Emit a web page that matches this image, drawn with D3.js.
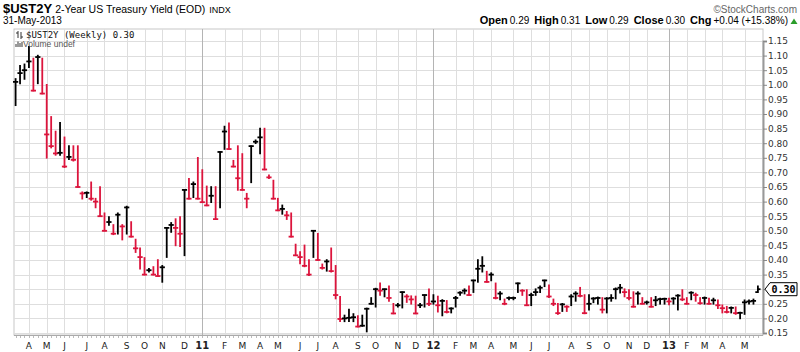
<!DOCTYPE html>
<html><head><meta charset="utf-8">
<script src="https://cdn.jsdelivr.net/npm/d3@7"></script>
<style>body{margin:0;background:#fff} svg{display:block}</style>
</head><body>
<svg id="c" width="800" height="352"></svg>
<script>
// ---- data ----
const firstWeek = "2010-03-15";   // Monday of first weekly bar
const lastWeek  = "2013-05-27";   // Monday of last weekly bar

const opens = [1.01,1.04,1.05,1.08,0.98,1.095,0.97,0.83,0.79,0.765,0.767,0.72,0.753,0.743,0.65,0.628,0.63,0.61,0.60,0.55,
0.50,0.53,0.49,0.555,0.515,0.58,0.48,0.44,0.41,0.35,0.365,0.35,0.345,0.375,0.51,0.52,0.51,0.49,0.64,0.61,
0.66,0.61,0.598,0.587,0.62,0.54,0.77,0.84,0.78,0.72,0.68,0.64,0.61,0.79,0.805,0.82,0.71,0.683,0.61,0.57,
0.575,0.553,0.48,0.416,0.41,0.38,0.35,0.50,0.40,0.373,0.395,0.362,0.28,0.198,0.20,0.202,0.204,0.172,0.175,0.233,
0.25,0.30,0.295,0.30,0.27,0.217,0.245,0.29,0.275,0.265,0.217,0.245,0.28,0.25,0.258,0.245,0.26,0.222,0.234,0.27,
0.288,0.295,0.28,0.33,0.37,0.38,0.325,0.35,0.27,0.285,0.25,0.27,0.27,0.32,0.295,0.245,0.28,0.29,0.305,0.33,
0.275,0.25,0.218,0.248,0.24,0.275,0.285,0.277,0.218,0.25,0.268,0.27,0.23,0.268,0.27,0.30,0.305,0.29,0.27,0.24,
0.285,0.25,0.255,0.24,0.262,0.266,0.267,0.258,0.268,0.278,0.265,0.25,0.288,0.28,0.252,0.27,0.25,0.262,0.245,0.235,
0.222,0.236,0.218,0.219,0.255,0.258,0.26,0.29];
const highs = [1.02,1.065,1.07,1.13,1.09,1.10,1.09,1.00,0.89,0.84,0.87,0.82,0.79,0.79,0.79,0.632,0.632,0.666,0.61,0.65,
0.56,0.547,0.52,0.56,0.52,0.583,0.53,0.47,0.44,0.407,0.37,0.376,0.40,0.38,0.51,0.527,0.54,0.547,0.64,0.678,
0.666,0.75,0.708,0.652,0.65,0.65,0.77,0.857,0.868,0.74,0.79,0.763,0.627,0.79,0.81,0.85,0.85,0.69,0.672,0.61,
0.587,0.565,0.56,0.453,0.427,0.45,0.40,0.50,0.49,0.385,0.40,0.44,0.38,0.274,0.21,0.23,0.215,0.208,0.21,0.234,
0.27,0.302,0.32,0.30,0.31,0.25,0.25,0.29,0.28,0.276,0.275,0.25,0.28,0.30,0.28,0.275,0.263,0.26,0.235,0.274,
0.29,0.30,0.31,0.33,0.40,0.41,0.36,0.355,0.32,0.29,0.265,0.272,0.272,0.32,0.297,0.297,0.285,0.30,0.31,0.33,
0.313,0.265,0.25,0.25,0.242,0.28,0.29,0.305,0.28,0.28,0.27,0.272,0.27,0.27,0.28,0.303,0.315,0.30,0.297,0.29,
0.29,0.27,0.258,0.27,0.274,0.268,0.268,0.268,0.27,0.28,0.297,0.27,0.29,0.285,0.27,0.272,0.268,0.268,0.262,0.245,
0.24,0.238,0.238,0.22,0.262,0.262,0.265,0.31];
const lows = [0.93,1.005,1.02,1.06,0.98,1.005,0.97,0.75,0.785,0.76,0.76,0.718,0.745,0.74,0.65,0.61,0.615,0.606,0.58,0.55,
0.50,0.52,0.488,0.49,0.47,0.49,0.48,0.427,0.37,0.35,0.36,0.35,0.345,0.325,0.41,0.496,0.45,0.447,0.416,0.61,
0.615,0.61,0.598,0.587,0.598,0.54,0.58,0.78,0.78,0.72,0.64,0.64,0.58,0.666,0.80,0.765,0.71,0.68,0.61,0.57,
0.558,0.54,0.48,0.416,0.388,0.378,0.348,0.41,0.40,0.37,0.363,0.36,0.268,0.19,0.19,0.19,0.19,0.172,0.174,0.155,
0.25,0.24,0.28,0.275,0.26,0.217,0.24,0.237,0.256,0.25,0.217,0.238,0.24,0.245,0.25,0.223,0.21,0.22,0.22,0.24,
0.28,0.285,0.28,0.29,0.325,0.36,0.325,0.33,0.268,0.265,0.248,0.265,0.265,0.29,0.28,0.245,0.245,0.28,0.29,0.31,
0.273,0.245,0.215,0.225,0.225,0.245,0.26,0.275,0.217,0.23,0.255,0.25,0.22,0.22,0.26,0.268,0.288,0.275,0.265,0.24,
0.25,0.25,0.25,0.24,0.245,0.25,0.25,0.248,0.25,0.23,0.262,0.25,0.265,0.26,0.25,0.25,0.25,0.25,0.235,0.22,
0.22,0.22,0.215,0.20,0.215,0.25,0.25,0.29];
const closes = [1.01,1.04,1.05,1.08,0.98,1.095,0.97,0.83,0.79,0.765,0.767,0.72,0.753,0.743,0.65,0.628,0.63,0.61,0.60,0.55,
0.50,0.53,0.49,0.555,0.515,0.58,0.48,0.44,0.41,0.35,0.365,0.35,0.345,0.375,0.51,0.52,0.51,0.49,0.64,0.61,
0.66,0.61,0.598,0.587,0.62,0.54,0.77,0.84,0.78,0.72,0.68,0.64,0.61,0.79,0.805,0.82,0.71,0.683,0.61,0.57,
0.575,0.553,0.48,0.416,0.41,0.38,0.35,0.50,0.40,0.373,0.395,0.362,0.28,0.198,0.20,0.202,0.204,0.172,0.175,0.233,
0.25,0.30,0.295,0.30,0.27,0.217,0.245,0.29,0.275,0.265,0.217,0.245,0.28,0.25,0.258,0.245,0.26,0.222,0.234,0.27,
0.288,0.295,0.28,0.33,0.37,0.38,0.325,0.35,0.27,0.285,0.25,0.27,0.27,0.32,0.295,0.245,0.28,0.29,0.305,0.33,
0.275,0.25,0.218,0.248,0.24,0.275,0.285,0.277,0.218,0.25,0.268,0.27,0.23,0.268,0.27,0.30,0.305,0.29,0.27,0.24,
0.285,0.25,0.255,0.24,0.262,0.266,0.267,0.258,0.268,0.278,0.265,0.25,0.288,0.28,0.252,0.27,0.25,0.262,0.245,0.235,
0.222,0.236,0.218,0.219,0.255,0.258,0.26,0.30];

const tickDates = ["2010-04-05","2010-05-03","2010-05-31","2010-07-05","2010-08-02","2010-09-06","2010-10-04","2010-11-01","2010-12-06",
"2011-01-03","2011-02-07","2011-03-07","2011-04-04","2011-05-02","2011-06-06","2011-07-04","2011-08-01","2011-09-05","2011-10-03","2011-11-07","2011-12-05",
"2012-01-02","2012-02-06","2012-03-05","2012-04-02","2012-05-07","2012-06-04","2012-07-02","2012-08-06","2012-09-03","2012-10-01","2012-11-05","2012-12-03",
"2013-01-07","2013-02-04","2013-03-04","2013-04-01","2013-05-06"];
const tickLabels = ["A","M","J","J","A","S","O","N","D",
"11","F","M","A","M","J","J","A","S","O","N","D",
"12","F","M","A","M","J","J","A","S","O","N","D",
"13","F","M","A","M"];
const yTickValues = [0.15,0.20,0.25,0.30,0.35,0.40,0.45,0.50,0.55,0.60,0.65,0.70,0.75,0.80,0.85,0.90,0.95,1.00,1.05,1.10,1.15];

// ---- layout ----
const L = 14, R = 763, T = 29, B = 335;
const RED = "#dc143c", BLACK = "#000";
const svg = d3.select("#c");
const parse = d3.timeParse("%Y-%m-%d");
const weeks = d3.timeMonday.range(parse(firstWeek), d3.timeDay.offset(parse(lastWeek), 1));
const data = weeks.map((d, i) => ({date: d, o: opens[i], h: highs[i], l: lows[i], c: closes[i],
  up: i === 0 ? true : closes[i] >= closes[i - 1]}));
const last = data[data.length - 1];

const x = d3.scaleTime().domain([weeks[0], weeks[weeks.length - 1]]).range([15.6, 757.9]);
const y = d3.scaleLinear().domain([0.15, 1.15]).range([333, 41]);

// plot background
svg.append("rect").attr("x", L).attr("y", T).attr("width", R - L).attr("height", B - T)
  .attr("fill", "#fff").attr("stroke", "#c8c8c8");

// horizontal grid
svg.append("g").selectAll("line").data(yTickValues).join("line")
  .attr("x1", L).attr("x2", R).attr("y1", d => Math.round(y(d)) + 0.5).attr("y2", d => Math.round(y(d)) + 0.5)
  .attr("stroke", "#dedede");

// vertical grid
const ticks = tickDates.map((d, i) => ({date: parse(d), label: tickLabels[i], year: /^\d+$/.test(tickLabels[i])}));
svg.append("g").selectAll("line").data(ticks).join("line")
  .attr("x1", d => Math.round(x(d.date)) + 0.5).attr("x2", d => Math.round(x(d.date)) + 0.5)
  .attr("y1", T).attr("y2", B)
  .attr("stroke", d => d.year ? "#b4b4b4" : "#dedede");

// right axis (label hidden where the last-value marker sits)
const fmt = d3.format(".2f");
const yAxis = d3.axisRight(y).tickValues(yTickValues).tickSize(4)
  .tickFormat(d => Math.abs(d - last.c) < 0.02 ? "" : fmt(d));
const ya = svg.append("g").attr("transform", `translate(${R},0)`).call(yAxis);
ya.select(".domain").attr("stroke", "#999").attr("stroke-width", 2);
ya.selectAll(".tick line").attr("stroke", "#888");
ya.selectAll(".tick text").attr("x", 5).attr("fill", "#333")
  .style("font", "9px 'DejaVu Sans', sans-serif");

// bottom axis
svg.append("line").attr("x1", L).attr("x2", R).attr("y1", B + 0.5).attr("y2", B + 0.5).attr("stroke", "#aaa");
svg.append("g").selectAll("line").data(weeks).join("line")
  .attr("x1", d => Math.round(x(d)) + 0.5).attr("x2", d => Math.round(x(d)) + 0.5)
  .attr("y1", B + 1).attr("y2", B + 3).attr("stroke", "#bbb");
svg.append("g").selectAll("text").data(ticks).join("text")
  .attr("x", d => x(d.date)).attr("y", 349).attr("text-anchor", "middle")
  .attr("fill", "#222")
  .style("font", d => (d.year ? "bold 10px" : "9px") + " 'DejaVu Sans', sans-serif")
  .text(d => d.label);

// OHLC bars
const bars = svg.append("g").selectAll("g").data(data).join("g")
  .attr("stroke", d => d.up ? BLACK : RED).attr("stroke-width", 1.8);
bars.append("line").attr("x1", d => x(d.date)).attr("x2", d => x(d.date))
  .attr("y1", d => y(d.h) - 0.8).attr("y2", d => y(d.l) + 0.8);
bars.append("line").attr("x1", d => x(d.date) - 2.6).attr("x2", d => x(d.date))
  .attr("y1", d => y(d.o)).attr("y2", d => y(d.o));
bars.append("line").attr("x1", d => x(d.date)).attr("x2", d => x(d.date) + 2.6)
  .attr("y1", d => y(d.c)).attr("y2", d => y(d.c));

// last value marker
const ly = y(last.c);
svg.append("path")
  .attr("d", `M765,${ly} L770,${ly - 6.5} L797,${ly - 6.5} L797,${ly + 6.5} L770,${ly + 6.5} Z`)
  .attr("fill", "#fff").attr("stroke", "#000").attr("stroke-width", 1);
svg.append("text").attr("x", 783.5).attr("y", ly + 3.8).attr("text-anchor", "middle")
  .style("font", "bold 10px 'DejaVu Sans Mono', monospace").text(fmt(last.c));

// header
const head = svg.append("text").attr("x", 3).attr("y", 13).attr("fill", "#000");
head.append("tspan").style("font", "bold 13px 'Liberation Sans Narrow','Liberation Sans',sans-serif").text("$UST2Y");
head.append("tspan").attr("dx", 3).style("font", "10.5px 'Liberation Sans Narrow','Liberation Sans',sans-serif").text("2-Year US Treasury Yield (EOD)");
head.append("tspan").attr("dx", 4).style("font", "9px 'Liberation Sans Narrow','Liberation Sans',sans-serif").text("INDX");
svg.append("text").attr("x", 797).attr("y", 13).attr("text-anchor", "end").attr("fill", "#666")
  .style("font", "10px 'Liberation Sans Narrow','Liberation Sans',sans-serif").text("\u00A9StockCharts.com");
svg.append("text").attr("x", 3).attr("y", 24).attr("fill", "#000")
  .style("font", "10px 'Liberation Sans Narrow','Liberation Sans',sans-serif").text("31-May-2013");

const prev = data[data.length - 2];
const chg = last.c - prev.c;
const info = [["Open", fmt(last.o)], ["High", fmt(last.h)], ["Low", fmt(last.l)],
  ["Close", fmt(last.c)], ["Chg", `+${fmt(chg)} (+${fmt(chg / prev.c * 100)}%)`]];
const it = svg.append("text").attr("x", 788).attr("y", 24).attr("text-anchor", "end");
info.forEach((p, i) => {
  it.append("tspan").attr("dx", i ? 5 : 0).style("font", "bold 11px 'Liberation Sans Narrow','Liberation Sans',sans-serif").text(p[0]);
  it.append("tspan").attr("dx", 2).style("font", "10px 'Liberation Sans Narrow','Liberation Sans',sans-serif").text(p[1]);
});
svg.append("path").attr("d", "M790.5,24 L797.5,24 L794,18.5 Z").attr("fill", "#2a9d2a");

// legend inside plot
const lg = svg.append("g").attr("fill", "#333");
lg.append("path").attr("d", "M18,31 V38 M16,33 H18 M21,32 V39 M21,37 H23").attr("stroke", "#333").attr("fill", "none").attr("stroke-width", 1);
lg.append("text").attr("x", 26).attr("y", 38).style("font", "9px 'DejaVu Sans Mono', monospace").attr("fill", "#111")
  .text("$UST2Y (Weekly) " + fmt(last.c));
lg.append("path").attr("d", "M16,47 V44 M18,47 V41.5 M20,47 V43 M22,47 V42").attr("stroke", "#555").attr("stroke-width", 1.2).attr("fill", "none");
lg.append("text").attr("x", 23).attr("y", 47).style("font", "8.5px 'Liberation Sans', sans-serif").attr("fill", "#555")
  .text("Volume undef");
</script>
</body></html>
